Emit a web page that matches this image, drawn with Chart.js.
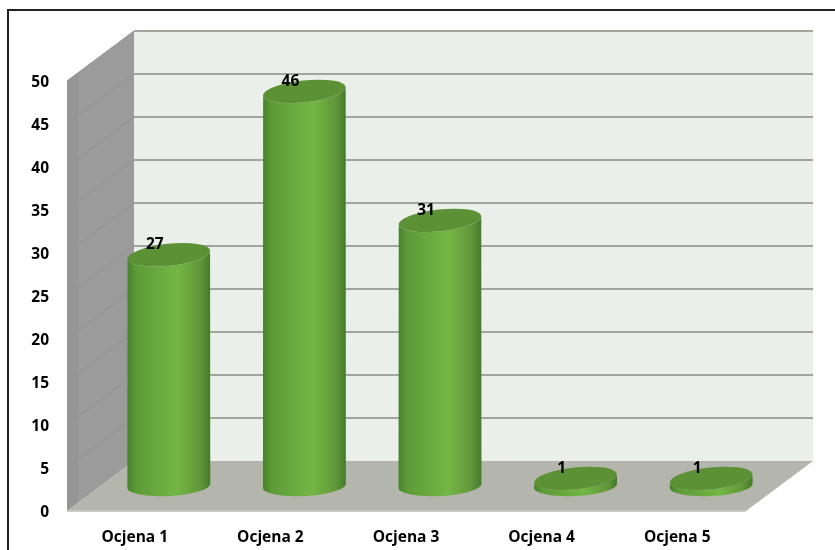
<!DOCTYPE html>
<html>
<head>
<meta charset="utf-8">
<script src="https://cdn.jsdelivr.net/npm/chart.js@4"></script>
<style>
html, body { margin: 0; padding: 0; background: #fff; overflow: hidden; }
canvas { display: block; filter: blur(0.45px); }
</style>
</head>
<body>
<canvas id="myChart" width="835" height="550"></canvas>
<script>
const categories = ['Ocjena 1', 'Ocjena 2', 'Ocjena 3', 'Ocjena 4', 'Ocjena 5'];
const values = [27, 46, 31, 1, 1];
const yMax = 50;
const yStep = 5;

// depth of the fake 3d box
const depthX = 67;
const depthY = 50;
const fontFamily = 'Open Sans';
const fontSize = 15.5;

function cylinderGradient(ctx, left, right) {
    const g = ctx.createLinearGradient(left, 0, right, 0);
    g.addColorStop(0, '#46812a');
    g.addColorStop(0.1, '#5c9a37');
    g.addColorStop(0.6, '#74b644');
    g.addColorStop(0.88, '#61973a');
    g.addColorStop(1, '#447a29');
    return g;
}

const box3d = {
    id: 'box3d',
    beforeDatasetsDraw(chart) {
        const ctx = chart.ctx;
        const a = chart.chartArea;
        const y = chart.scales.y;
        const right = a.right + 1;
        ctx.save();
        // frame, only top and left are visible in the picture
        ctx.strokeStyle = '#222';
        ctx.lineWidth = 2;
        ctx.beginPath();
        ctx.moveTo(8, 550);
        ctx.lineTo(8, 10);
        ctx.lineTo(835, 10);
        ctx.stroke();
        // back wall
        ctx.fillStyle = '#ebefe9';
        ctx.fillRect(a.left + depthX, a.top - depthY, right - a.left, a.height);
        // side wall, with the slightly darker front strip clipped to it
        ctx.save();
        ctx.beginPath();
        ctx.moveTo(a.left, a.top);
        ctx.lineTo(a.left + depthX, a.top - depthY);
        ctx.lineTo(a.left + depthX, a.bottom - depthY);
        ctx.lineTo(a.left, a.bottom);
        ctx.closePath();
        ctx.fillStyle = '#9b9b9b';
        ctx.fill();
        ctx.clip();
        ctx.fillStyle = '#969696';
        ctx.fillRect(a.left, a.top - depthY, 11, a.height + depthY);
        ctx.restore();
        // floor
        ctx.fillStyle = '#b4b5ad';
        ctx.beginPath();
        ctx.moveTo(a.left, a.bottom);
        ctx.lineTo(a.left + depthX, a.bottom - depthY);
        ctx.lineTo(right + depthX, a.bottom - depthY);
        ctx.lineTo(right, a.bottom);
        ctx.closePath();
        ctx.fill();
        ctx.fillStyle = '#c9c9c5';
        ctx.fillRect(a.left, a.bottom - 1, right - a.left, 2);
        // grid lines, taken from the y scale ticks
        y.ticks.forEach(t => {
            const py = y.getPixelForValue(t.value);
            if (t.value > 0) {
                ctx.strokeStyle = '#939393';
                ctx.lineWidth = 1;
                ctx.beginPath();
                ctx.moveTo(a.left, py);
                ctx.lineTo(a.left + depthX, py - depthY);
                ctx.stroke();
                ctx.strokeStyle = '#a2a59d';
                ctx.lineWidth = 2;
                ctx.beginPath();
                ctx.moveTo(a.left + depthX, py - depthY);
                ctx.lineTo(right + depthX, py - depthY);
                ctx.stroke();
            }
        });
        // cylinders
        chart.getDatasetMeta(0).data.forEach(bar => {
            const rx = bar.width / 2;
            const cx = bar.x + depthX / 2 + 0.5;
            const top = bar.y - depthY / 2 + 1;
            const base = bar.base - depthY / 2;
            const topTilt = -6 * Math.PI / 180;
            const baseTilt = -3 * Math.PI / 180;
            ctx.fillStyle = cylinderGradient(ctx, cx - rx, cx + rx);
            ctx.beginPath();
            ctx.ellipse(cx, top, rx, 11, topTilt, Math.PI, 0, true);
            ctx.ellipse(cx, base, rx, 10, baseTilt, 0, Math.PI, false);
            ctx.closePath();
            ctx.fill();
            ctx.fillStyle = '#5c9135';
            ctx.beginPath();
            ctx.ellipse(cx, top, rx, 11, topTilt, 0, Math.PI * 2);
            ctx.fill();
        });
        ctx.restore();
    },
    afterDatasetsDraw(chart) {
        const ctx = chart.ctx;
        ctx.save();
        ctx.font = 'bold ' + fontSize + 'px "' + fontFamily + '"';
        ctx.fillStyle = '#000';
        ctx.textAlign = 'center';
        ctx.textBaseline = 'middle';
        chart.getDatasetMeta(0).data.forEach((bar, i) => {
            ctx.fillText(values[i], bar.x + 20, bar.y - depthY / 2 - 9);
        });
        ctx.restore();
    }
};

new Chart(document.getElementById('myChart'), {
    type: 'bar',
    data: {
        labels: categories,
        datasets: [{
            data: values,
            backgroundColor: 'transparent',
            barThickness: 83
        }]
    },
    options: {
        responsive: false,
        animation: false,
        layout: { padding: { top: 81, right: 90, left: 0, bottom: 0 } },
        plugins: {
            legend: { display: false },
            tooltip: { enabled: false }
        },
        scales: {
            x: {
                grid: { display: false, drawTicks: false },
                border: { display: false },
                ticks: { color: '#000', font: { family: fontFamily, size: fontSize, weight: 'bold' }, padding: 17, maxRotation: 0 },
                afterFit(scale) { scale.height = 39; }
            },
            y: {
                min: 0,
                max: yMax,
                grid: { display: false, drawTicks: false },
                border: { display: false },
                ticks: { stepSize: yStep, color: '#000', font: { family: fontFamily, size: fontSize, weight: 'bold' }, padding: 18, labelOffset: 2 },
                afterFit(scale) { scale.width = 67; }
            }
        }
    },
    plugins: [box3d]
});
</script>
</body>
</html>
